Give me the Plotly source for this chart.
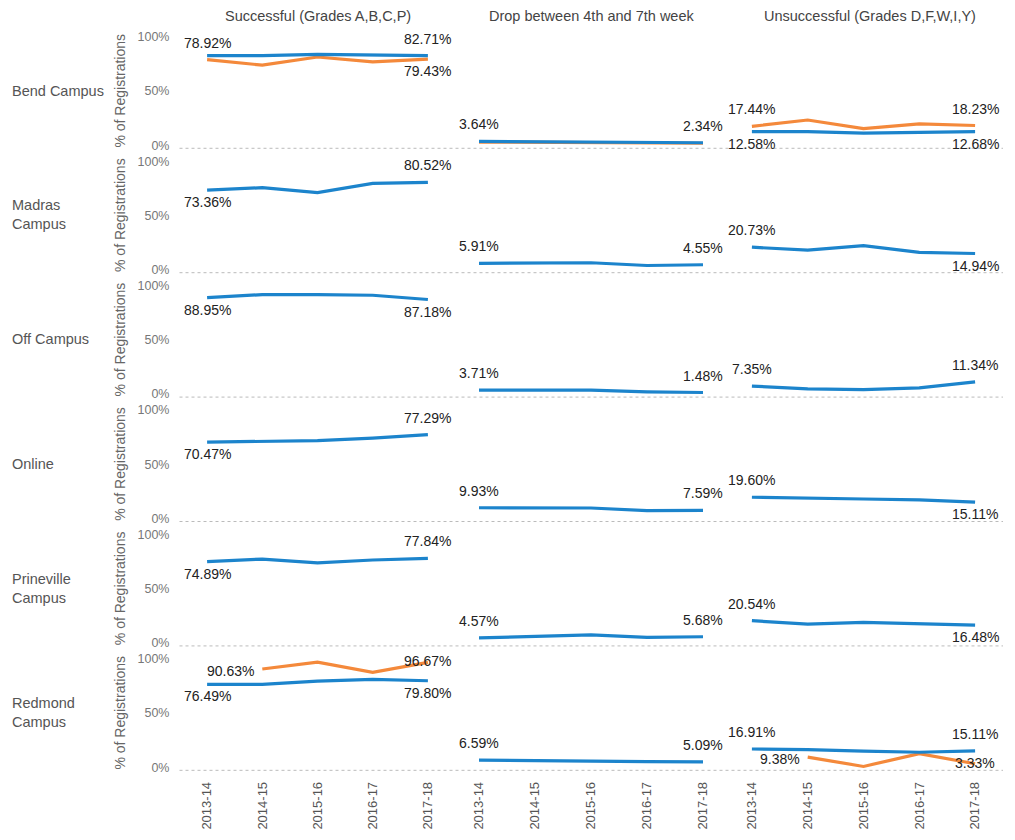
import plotly.graph_objects as go

# ---------------- data ----------------
years = ["2013-14", "2014-15", "2015-16", "2016-17", "2017-18"]
campuses = ["Bend Campus", "Madras<br>Campus", "Off Campus", "Online",
            "Prineville<br>Campus", "Redmond<br>Campus"]
outcomes = ["Successful (Grades A,B,C,P)", "Drop between 4th and 7th week",
            "Unsuccessful (Grades D,F,W,I,Y)"]
y_ticks = [0, 50, 100]
y_tick_labels = ["0%", "50%", "100%"]

# blue series, one list per campus (rows in campus order)
blue_successful = [
    [82.6, 82.7, 83.8, 83.0, 82.71],
    [73.36, 75.6, 71.0, 79.5, 80.52],
    [88.95, 91.7, 91.7, 91.1, 87.18],
    [70.47, 70.8, 71.7, 74.1, 77.29],
    [74.89, 77.3, 73.7, 76.4, 77.84],
    [76.49, 76.5, 79.5, 81.0, 79.80],
]
blue_drop = [
    [3.64, 3.4, 3.1, 2.8, 2.34],
    [5.91, 5.9, 6.4, 3.9, 4.55],
    [3.71, 3.7, 3.6, 2.1, 1.48],
    [9.93, 9.9, 9.7, 7.3, 7.59],
    [4.57, 6.0, 7.5, 5.2, 5.68],
    [6.59, 6.5, 5.8, 5.2, 5.09],
]
blue_unsuccessful = [
    [12.58, 12.6, 11.2, 11.8, 12.68],
    [20.73, 18.0, 22.1, 16.0, 14.94],
    [7.35, 4.9, 4.1, 5.8, 11.34],
    [19.60, 18.5, 18.0, 17.2, 15.11],
    [20.54, 17.3, 19.0, 17.9, 16.48],
    [16.91, 16.4, 14.9, 13.9, 15.11],
]
# orange series (only Bend Campus and Redmond Campus)
orange_successful = {0: [78.92, 73.9, 81.4, 76.9, 79.43],
                     5: [None, 90.63, 96.9, 87.6, 96.67]}
orange_drop = {0: [3.0, 2.8, 2.5, 2.2, 1.9]}
orange_unsuccessful = {0: [17.44, 23.3, 15.4, 19.8, 18.23],
                       5: [None, 9.38, 0.8, 12.6, 3.33]}

# ---------------- styles ----------------
W, H = 1015, 840
BLUE = "#1C84CC"
ORANGE = "#F4893B"
FONT = "Liberation Sans, Arial, sans-serif"

col_px = [(179.5, 455.5), (451, 731), (724, 1003)]
row_bottom_px = [149 + 125 * k for k in range(6)]
row_h = 125
yrange = [-2.75, 111.9]

# label placement (first, last); None = hidden
T, B, L, C = "top", "bottom", "left", "center"
blue_pos = {
    (0, 0): (None, T), (0, 1): (T, T), (0, 2): (B, B),
    (1, 0): (B, T), (1, 1): (T, T), (1, 2): (T, B),
    (2, 0): (B, B), (2, 1): (T, T), (2, 2): (T, T),
    (3, 0): (B, T), (3, 1): (T, T), (3, 2): (T, B),
    (4, 0): (B, T), (4, 1): (T, T), (4, 2): (T, B),
    (5, 0): (B, B), (5, 1): (T, T), (5, 2): (T, T),
}
orange_pos = {
    (0, 0): (T, B), (0, 1): (None, None), (0, 2): (T, T),
    (5, 0): (L, C), (5, 2): (L, C),
}
place = {
    T: dict(xanchor="center", yanchor="middle", xshift=0, yshift=17),
    B: dict(xanchor="center", yanchor="middle", xshift=0, yshift=-12),
    L: dict(xanchor="right", yanchor="middle", xshift=-6, yshift=-2),
    C: dict(xanchor="center", yanchor="middle", xshift=0, yshift=1),
}

fig = go.Figure()
layout = {}
blue_sets = [blue_successful, blue_drop, blue_unsuccessful]
orange_sets = [orange_successful, orange_drop, orange_unsuccessful]
shapes = []
annotations = []
label_font = dict(family=FONT, size=14, color="#222")


def add_series(vals, color, pos, sfx):
    fig.add_trace(go.Scatter(
        x=years, y=vals, mode="lines", line=dict(color=color, width=3.2),
        xaxis="x" + sfx, yaxis="y" + sfx, hoverinfo="skip"))
    idx = [i for i, v in enumerate(vals) if v is not None]
    for i, p in zip((idx[0], idx[-1]), pos):
        if p is None:
            continue
        annotations.append(dict(text=f"{vals[i]:.2f}%", x=years[i], y=vals[i],
                                xref="x" + sfx, yref="y" + sfx, showarrow=False,
                                font=label_font, **place[p]))


for r in range(6):
    for c in range(3):
        idx = r * 3 + c + 1
        sfx = "" if idx == 1 else str(idx)
        x0, x1 = col_px[c]
        yb = row_bottom_px[r]
        layout["xaxis" + sfx] = dict(
            domain=[x0 / W, x1 / W], anchor="y" + sfx, type="category",
            categoryorder="array", categoryarray=years, range=[-0.5, 4.5],
            showgrid=False, zeroline=False, showline=False, ticks="",
            showticklabels=(r == 5), tickangle=-90, ticklabelstandoff=8,
            tickfont=dict(family=FONT, size=13, color="#555"))
        layout["yaxis" + sfx] = dict(
            domain=[1 - yb / H, 1 - (yb - row_h) / H], anchor="x" + sfx,
            range=yrange, tickmode="array", tickvals=y_ticks, ticktext=y_tick_labels,
            showticklabels=(c == 0), showgrid=False, zeroline=False,
            showline=False, ticks="", ticklabelstandoff=9,
            tickfont=dict(family=FONT, size=12.5, color="#777"))

        if r in orange_sets[c]:
            add_series(orange_sets[c][r], ORANGE, orange_pos[(r, c)], sfx)
        add_series(blue_sets[c][r], BLUE, blue_pos[(r, c)], sfx)

    # dotted baseline across the row
    sfx = "" if r == 0 else str(r * 3 + 1)
    shapes.append(dict(type="line", xref="paper", yref="y" + sfx + " domain",
                       x0=col_px[0][0] / W, x1=col_px[2][1] / W, y0=0, y1=0,
                       line=dict(color="#BBBBBB", width=1, dash="dot")))
    # row label
    yc = row_bottom_px[r] - 58
    annotations.append(dict(text=campuses[r], xref="paper", yref="paper",
                            x=10 / W, y=1 - yc / H, xanchor="left", yanchor="middle",
                            align="left", showarrow=False,
                            font=dict(family=FONT, size=14.5, color="#555")))
    annotations.append(dict(text="% of Registrations", xref="paper", yref="paper",
                            x=120 / W, y=1 - yc / H, xanchor="center", yanchor="middle",
                            textangle=-90, showarrow=False,
                            font=dict(family=FONT, size=14, color="#666")))

for c in range(3):
    x0, x1 = col_px[c]
    annotations.append(dict(text=outcomes[c], xref="paper", yref="paper",
                            x=(x0 + x1) / 2 / W + (0.006 if c == 2 else 0), y=1 - 16 / H,
                            xanchor="center", yanchor="middle", showarrow=False,
                            font=dict(family=FONT, size=14.5, color="#444")))

fig.update_layout(**layout)
fig.update_layout(width=W, height=H, margin=dict(l=0, r=0, t=0, b=0),
                  paper_bgcolor="white", plot_bgcolor="white", showlegend=False,
                  shapes=shapes, annotations=annotations)

fig.write_html("out.html", config={"displayModeBar": False},
               post_script="document.body.style.margin='0';document.body.style.overflow='hidden';")
